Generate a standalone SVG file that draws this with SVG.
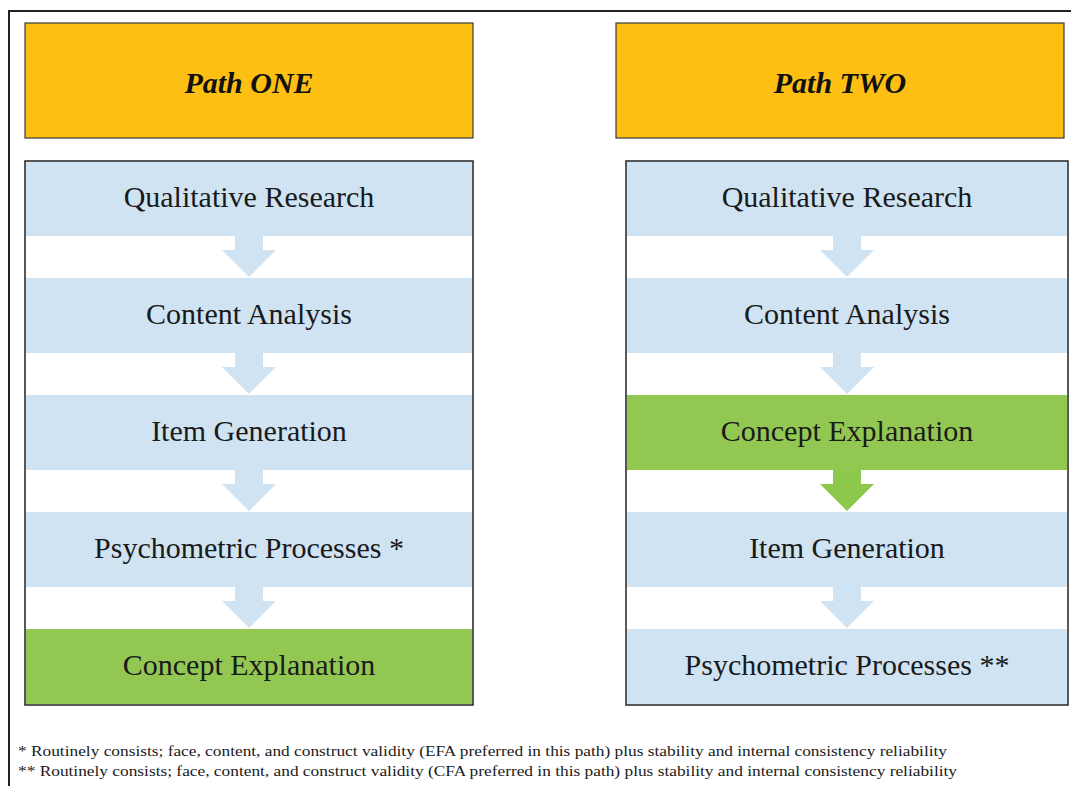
<svg xmlns="http://www.w3.org/2000/svg" width="1071" height="786" viewBox="0 0 1071 786">
  <style>
    .title { font-family: "Liberation Serif", "Times New Roman", serif; font-size: 30px; font-weight: bold; font-style: italic; fill: #111; text-anchor: middle; }
    .lbl { font-family: "Liberation Serif", "Times New Roman", serif; font-size: 30px; fill: #1a1a1a; text-anchor: middle; }
    .note { font-family: "Liberation Serif", "Times New Roman", serif; font-size: 15.5px; fill: #1a1a1a; }
    .head { fill: #FCBF12; stroke: #3a3a3a; stroke-width: 1.2; }
    .box { fill: #ffffff; stroke: #222; stroke-width: 1.5; }
    .blue { fill: #CFE3F3; }
    .green { fill: #92C852; }
    .arrowBlue { fill: #CFE3F3; }
    .arrowGreen { fill: #8CC84B; }
  </style>
  <rect width="1071" height="786" fill="#ffffff"/>
  <path d="M9 790 V11 H1075" fill="none" stroke="#222" stroke-width="2"/>

  <g id="path-one-header">
    <rect class="head" x="25" y="23" width="448" height="115"/>
    <text class="title" x="249" y="93">Path ONE</text>
  </g>
  <g id="path-two-header">
    <rect class="head" x="616" y="23" width="448" height="115"/>
    <text class="title" x="840" y="93">Path TWO</text>
  </g>

  <g id="path-one-frame"><rect class="box" x="25" y="161" width="448" height="544"/></g>
  <g id="path-two-frame"><rect class="box" x="626" y="161" width="442" height="544"/></g>

  <g id="p1-qualitative"><rect class="blue" x="26" y="162" width="446" height="74"/><text class="lbl" x="249" y="207">Qualitative Research</text></g>
  <g id="p1-content"><rect class="blue" x="26" y="278" width="446" height="75"/><text class="lbl" x="249" y="324">Content Analysis</text></g>
  <g id="p1-item"><rect class="blue" x="26" y="395" width="446" height="75"/><text class="lbl" x="249" y="441">Item Generation</text></g>
  <g id="p1-psychometric"><rect class="blue" x="26" y="512" width="446" height="75"/><text class="lbl" x="249" y="558">Psychometric Processes *</text></g>
  <g id="p1-concept"><rect class="green" x="26" y="629" width="446" height="75"/><text class="lbl" x="249" y="675">Concept Explanation</text></g>

  <g id="p2-qualitative"><rect class="blue" x="627" y="162" width="440" height="74"/><text class="lbl" x="847" y="207">Qualitative Research</text></g>
  <g id="p2-content"><rect class="blue" x="627" y="278" width="440" height="75"/><text class="lbl" x="847" y="324">Content Analysis</text></g>
  <g id="p2-concept"><rect class="green" x="627" y="395" width="440" height="75"/><text class="lbl" x="847" y="441">Concept Explanation</text></g>
  <g id="p2-item"><rect class="blue" x="627" y="512" width="440" height="75"/><text class="lbl" x="847" y="558">Item Generation</text></g>
  <g id="p2-psychometric"><rect class="blue" x="627" y="629" width="440" height="75"/><text class="lbl" x="847" y="675">Psychometric Processes **</text></g>

  <defs>
    <path id="arr" d="M-14 0 H14 V14 H27 L0 41 L-27 14 H-14 Z"/>
  </defs>
  <g id="connectors">
    <use href="#arr" class="arrowBlue" x="249" y="236"/>
    <use href="#arr" class="arrowBlue" x="249" y="353"/>
    <use href="#arr" class="arrowBlue" x="249" y="470"/>
    <use href="#arr" class="arrowBlue" x="249" y="587"/>
    <use href="#arr" class="arrowBlue" x="847" y="236"/>
    <use href="#arr" class="arrowBlue" x="847" y="353"/>
    <use href="#arr" class="arrowGreen" x="847" y="470"/>
    <use href="#arr" class="arrowBlue" x="847" y="587"/>
  </g>

  <g id="footnotes">
    <text class="note" x="18" y="756" textLength="929" lengthAdjust="spacingAndGlyphs">* Routinely consists; face, content, and construct validity (EFA preferred in this path) plus stability and internal consistency reliability</text>
    <text class="note" x="18" y="776" textLength="939" lengthAdjust="spacingAndGlyphs">** Routinely consists; face, content, and construct validity (CFA preferred in this path) plus stability and internal consistency reliability</text>
  </g>
</svg>
